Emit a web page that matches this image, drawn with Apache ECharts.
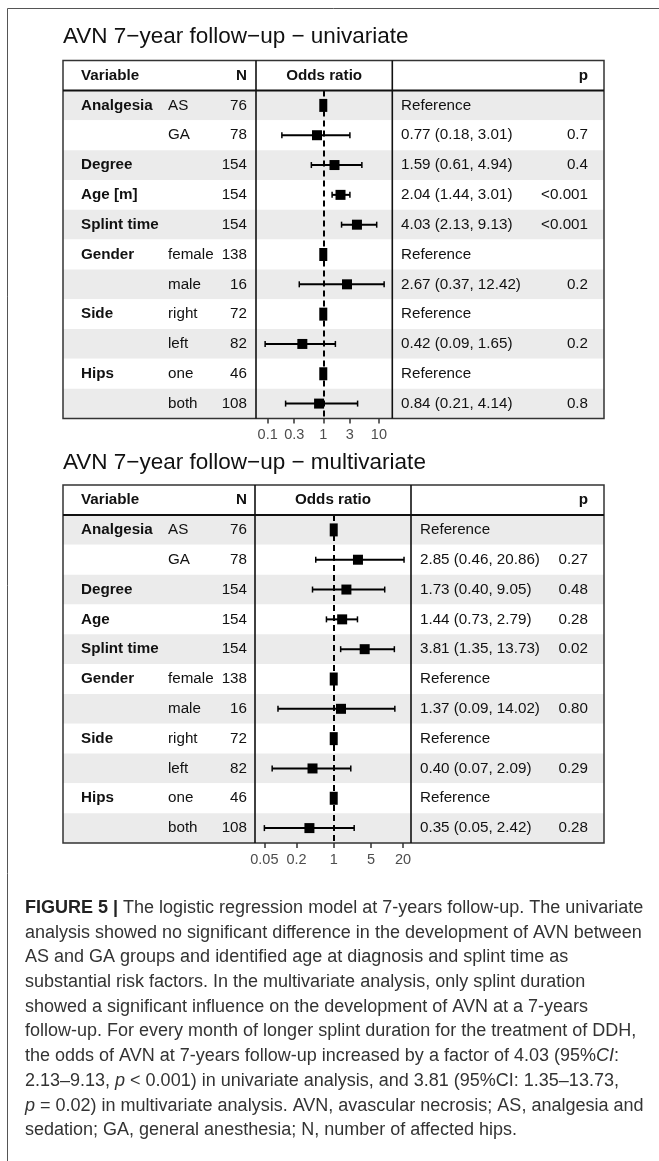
<!DOCTYPE html>
<html><head><meta charset="utf-8">
<script src="https://cdn.jsdelivr.net/npm/echarts@6/dist/echarts.min.js"></script>
<style>html,body{margin:0;padding:0;background:#fff}#c{width:659px;height:1161px}</style>
</head><body><div id="c"></div>
<script>
// ---------------- data ----------------
const rowKeys = ['Analgesia AS','Analgesia GA','Degree','Age','Splint time','Gender female','Gender male','Side right','Side left','Hips one','Hips both'];
const uniVariables   = ['Analgesia', '', 'Degree', 'Age [m]', 'Splint time', 'Gender', '', 'Side', '', 'Hips', ''];
const multiVariables = ['Analgesia', '', 'Degree', 'Age', 'Splint time', 'Gender', '', 'Side', '', 'Hips', ''];
const levels = ['AS', 'GA', '', '', '', 'female', 'male', 'right', 'left', 'one', 'both'];
const nHips  = [76, 78, 154, 154, 154, 138, 16, 72, 82, 46, 108];

const uniOR   = [1, 0.77, 1.59, 2.04, 4.03, 1, 2.67, 1, 0.42, 1, 0.84];
const uniLow  = [null, 0.18, 0.61, 1.44, 2.13, null, 0.37, null, 0.09, null, 0.21];
const uniHigh = [null, 3.01, 4.94, 3.01, 9.13, null, 12.42, null, 1.65, null, 4.14];
const uniP    = ['', '0.7', '0.4', '<0.001', '<0.001', '', '0.2', '', '0.2', '', '0.8'];

const multiOR   = [1, 2.85, 1.73, 1.44, 3.81, 1, 1.37, 1, 0.40, 1, 0.35];
const multiLow  = [null, 0.46, 0.40, 0.73, 1.35, null, 0.09, null, 0.07, null, 0.05];
const multiHigh = [null, 20.86, 9.05, 2.79, 13.73, null, 14.02, null, 2.09, null, 2.42];
const multiP    = ['', '0.27', '0.48', '0.28', '0.02', '', '0.80', '', '0.29', '', '0.28'];

const uniTicks = [0.1, 0.3, 1, 3, 10];
const uniTickLabels = ['0.1', '0.3', '1', '3', '10'];
const multiTicks = [0.05, 0.2, 1, 5, 20];
const multiTickLabels = ['0.05', '0.2', '1', '5', '20'];

const titles = ['AVN 7\u2212year follow\u2212up \u2212 univariate', 'AVN 7\u2212year follow\u2212up \u2212 multivariate'];

// ---------------- layout ----------------
const W = 659;
const FONT = '"Liberation Sans", Arial, Helvetica, sans-serif';
const FS = 15.2;
const TL = 63, TR = 604, P_RIGHT = 588;
const panels = [
  {title: titles[0], top: 60.5, hb: 90.5, bottom: 418.5, d1: 256, d2: 392.3, lmin: -1.21, lmax: 1.241, orStart: 401, titleY: 37,
   vars: uniVariables, or: uniOR, lo: uniLow, hi: uniHigh, p: uniP, ticks: uniTicks, tickLabels: uniTickLabels},
  {title: titles[1], top: 485, hb: 515, bottom: 843, d1: 255, d2: 411, lmin: -1.477, lmax: 1.450, orStart: 420, titleY: 462.5,
   vars: multiVariables, or: multiOR, lo: multiLow, hi: multiHigh, p: multiP, ticks: multiTicks, tickLabels: multiTickLabels}
];

function fmt(v) { return v.toFixed(2); }

const grid = [], xAxis = [], yAxis = [], series = [], graphic = [];

graphic.push({type: 'rect', z: 60, shape: {x: 7.5, y: 8.5, width: 720, height: 1200},
  style: {fill: 'none', stroke: '#555', lineWidth: 1}});

panels.forEach((P, k) => {
  const h = P.bottom - P.hb;
  const gT = grid.length;
  grid.push({left: TL, right: W - TR, top: P.hb, height: h, containLabel: false});
  xAxis.push({type: 'value', gridIndex: gT, min: 0, max: 1, show: false});
  yAxis.push({
    type: 'category', gridIndex: gT, inverse: true, data: rowKeys, position: 'left',
    axisLine: {show: false}, axisTick: {show: false},
    splitArea: {show: true, areaStyle: {color: ['#ebebeb', '#ffffff']}},
    axisLabel: {
      inside: true, margin: 18, interval: 0,
      formatter: (val, i) => '{v|' + (P.vars[i] || ' ') + '}{l|' + (levels[i] || ' ') + '}{n|' + nHips[i] + '}',
      rich: {
        v: {width: 87, align: 'left', fontWeight: 'bold', fontSize: FS, fontFamily: FONT, color: '#111'},
        l: {width: 51, align: 'left', fontSize: FS, fontFamily: FONT, color: '#111'},
        n: {width: 28, align: 'right', fontSize: FS, fontFamily: FONT, color: '#111'}
      }
    }
  });
  const orW = P_RIGHT - P.orStart;
  yAxis.push({
    type: 'category', gridIndex: gT, inverse: true, data: rowKeys, position: 'right',
    axisLine: {show: false}, axisTick: {show: false}, splitLine: {show: false},
    axisLabel: {
      inside: true, margin: TR - P_RIGHT, interval: 0,
      formatter: (val, i) => {
        const t = P.lo[i] == null ? 'Reference' : fmt(P.or[i]) + ' (' + fmt(P.lo[i]) + ', ' + fmt(P.hi[i]) + ')';
        return '{o|' + t + '}{p|' + (P.p[i] || ' ') + '}';
      },
      rich: {
        o: {width: orW - 50, align: 'left', fontSize: FS, fontFamily: FONT, color: '#111'},
        p: {width: 50, align: 'right', fontSize: FS, fontFamily: FONT, color: '#111'}
      }
    }
  });
  const gF = grid.length;
  grid.push({left: P.d1, right: W - P.d2, top: P.hb, height: h});
  const xF = xAxis.length;
  const logTicks = P.ticks.map(v => Math.log10(v));
  xAxis.push({
    type: 'value', gridIndex: gF, min: P.lmin, max: P.lmax,
    axisLine: {show: false}, splitLine: {show: false},
    axisTick: {show: true, customValues: logTicks, length: 5, lineStyle: {color: '#333', width: 1.5}},
    axisLabel: {
      customValues: logTicks, margin: 9, color: '#4d4d4d', fontSize: 14.5, fontFamily: FONT,
      formatter: (v) => {
        let best = 0, bd = 1e9;
        logTicks.forEach((t, j) => { const d = Math.abs(t - v); if (d < bd) { bd = d; best = j; } });
        return P.tickLabels[best];
      }
    }
  });
  const yF = yAxis.length;
  yAxis.push({type: 'category', gridIndex: gF, inverse: true, data: rowKeys, show: false});

  series.push({
    type: 'custom', xAxisIndex: xF, yAxisIndex: yF, z: 5,
    data: P.or.map((v, i) => [Math.log10(v), i]),
    renderItem: (params, api) => {
      const i = params.dataIndex;
      const c = api.coord([api.value(0), api.value(1)]);
      const ch = [];
      if (P.lo[i] != null) {
        const xl = api.coord([Math.log10(P.lo[i]), i])[0];
        const xh = api.coord([Math.log10(P.hi[i]), i])[0];
        ch.push({type: 'line', shape: {x1: xl, y1: c[1], x2: xh, y2: c[1]}, style: {stroke: '#000', lineWidth: 2}});
        ch.push({type: 'line', shape: {x1: xl, y1: c[1] - 3, x2: xl, y2: c[1] + 3}, style: {stroke: '#000', lineWidth: 1.5}});
        ch.push({type: 'line', shape: {x1: xh, y1: c[1] - 3, x2: xh, y2: c[1] + 3}, style: {stroke: '#000', lineWidth: 1.5}});
        ch.push({type: 'rect', shape: {x: c[0] - 5, y: c[1] - 5, width: 10, height: 10}, style: {fill: '#000'}});
      } else {
        ch.push({type: 'rect', shape: {x: c[0] - 4, y: c[1] - 6.5, width: 8, height: 13}, style: {fill: '#000'}});
      }
      return {type: 'group', children: ch};
    },
    markLine: {
      silent: true, symbol: 'none', animation: false, z: 3,
      label: {show: false},
      lineStyle: {type: [6, 4], color: '#000', width: 2},
      data: [{xAxis: 0}]
    }
  });

  graphic.push({type: 'text', z: 60, style: {x: TL, y: P.titleY, text: P.title, font: '22.5px ' + FONT, fill: '#111', verticalAlign: 'middle'}});
  graphic.push({type: 'rect', z: 60, shape: {x: TL, y: P.top, width: TR - TL, height: P.bottom - P.top},
    style: {fill: 'none', stroke: '#333', lineWidth: 1.5}});
  graphic.push({type: 'line', z: 60, shape: {x1: TL, y1: P.hb, x2: TR, y2: P.hb}, style: {stroke: '#111', lineWidth: 2.2}});
  [P.d1, P.d2].forEach(x => graphic.push({type: 'line', z: 60, shape: {x1: x, y1: P.top, x2: x, y2: P.bottom}, style: {stroke: '#111', lineWidth: 1.6}}));
  const hy = (P.top + P.hb) / 2;
  const hf = 'bold ' + FS + 'px ' + FONT;
  graphic.push({type: 'text', z: 60, style: {x: 81, y: hy, text: 'Variable', font: hf, fill: '#111', verticalAlign: 'middle'}});
  graphic.push({type: 'text', z: 60, style: {x: 247, y: hy, text: 'N', font: hf, fill: '#111', align: 'right', verticalAlign: 'middle'}});
  graphic.push({type: 'text', z: 60, style: {x: (P.d1 + P.d2) / 2, y: hy, text: 'Odds ratio', font: hf, fill: '#111', align: 'center', verticalAlign: 'middle'}});
  graphic.push({type: 'text', z: 60, style: {x: P_RIGHT, y: hy, text: 'p', font: hf, fill: '#111', align: 'right', verticalAlign: 'middle'}});
});

// caption
const capFS = 18;
const capLH = 24.7;
const capBase = {fontSize: capFS, fontFamily: FONT, fill: '#333', lineHeight: capLH};
const captionLines = [
  '{b|FIGURE 5 |} The logistic regression model at 7-years follow-up. The univariate',
  'analysis showed no significant difference in the development of AVN between',
  'AS and GA groups and identified age at diagnosis and splint time as',
  'substantial risk factors. In the multivariate analysis, only splint duration',
  'showed a significant influence on the development of AVN at a 7-years',
  'follow-up. For every month of longer splint duration for the treatment of DDH,',
  'the odds of AVN at 7-years follow-up increased by a factor of 4.03 (95%{i|CI}:',
  '2.13\u20139.13, {i|p} < 0.001) in univariate analysis, and 3.81 (95%CI: 1.35\u201313.73,',
  '{i|p} = 0.02) in multivariate analysis. AVN, avascular necrosis; AS, analgesia and',
  'sedation; GA, general anesthesia; N, number of affected hips.'
];
graphic.push({type: 'text', z: 60, style: Object.assign({
  x: 25, y: 908 - capLH / 2, text: captionLines.join('\n'), verticalAlign: 'top',
  rich: {
    b: {fontWeight: 'bold', fontSize: capFS, fontFamily: FONT, fill: '#222', lineHeight: capLH},
    i: {fontStyle: 'italic', fontSize: capFS, fontFamily: FONT, fill: '#333', lineHeight: capLH}
  }
}, capBase)});

const chart = echarts.init(document.getElementById('c'), null, {renderer: 'canvas'});
chart.setOption({animation: false, backgroundColor: '#fff', grid, xAxis, yAxis, series, graphic});
</script></body></html>
